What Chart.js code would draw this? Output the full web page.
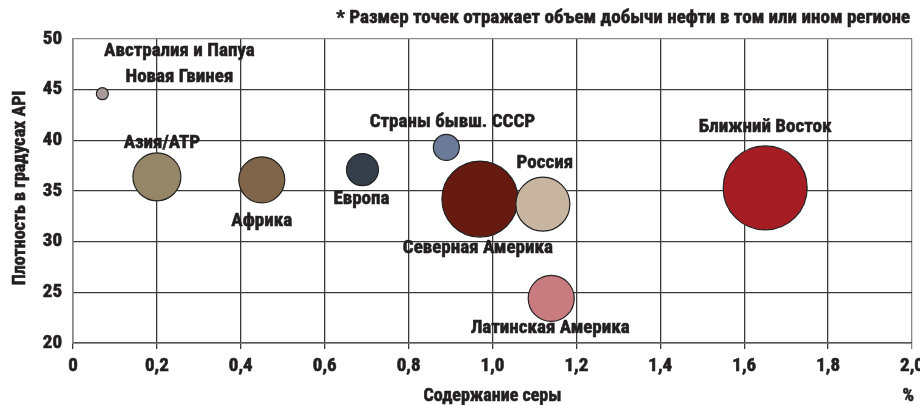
<!DOCTYPE html>
<html>
<head>
<meta charset="utf-8">
<script src="https://cdn.jsdelivr.net/npm/chart.js@4.4.1/dist/chart.umd.min.js"></script>
<style>
  html, body { margin: 0; padding: 0; background: #fff; }
  #wrap { width: 920px; height: 405px; position: relative; }
</style>
</head>
<body>
<div id="wrap"><canvas id="canvas-1"></canvas></div>
<script>
// regions
var regions = ['Австралия и Папуа\nНовая Гвинея', 'Азия/АТР', 'Африка', 'Европа',
  'Страны бывш. СССР', 'Северная Америка', 'Россия', 'Латинская Америка', 'Ближний Восток'];
// sulfur content, %
var sulfur = [0.07, 0.20, 0.45, 0.69, 0.89, 0.97, 1.12, 1.14, 1.65];
// API gravity
var api = [44.6, 36.4, 36.1, 37.1, 39.3, 34.2, 33.7, 24.4, 35.3];
// bubble radius (oil production)
var volume = [6, 24, 23, 16, 13, 38, 27, 23, 42];
var colors = ['#a89a98', '#958668', '#7f6549', '#353f4b', '#6b7a97', '#661a10', '#c7b5a0', '#c97c7f', '#a51c22'];
var xTicks = [0, 0.2, 0.4, 0.6, 0.8, 1.0, 1.2, 1.4, 1.6, 1.8, 2.0];
var yTicks = [20, 25, 30, 35, 40, 45, 50];

// label offsets from bubble centre (px)
var labelOffsets = [[77, -42], [5, -34], [0, 41], [-1, 30], [6, -25], [-2, 49], [2, -41], [-1, 30], [0, -61]];

var FONT = "'Roboto Condensed', 'Open Sans', sans-serif";
var INK = '#231f20';

var points = sulfur.map(function (x, i) {
  return { x: x, y: api[i], r: volume[i] };
});

var fmt = function (v) {
  if (v === 0) return '0';
  return v.toFixed(1).replace('.', ',');
};

// bold text with a thin outline, closer to the heavy print font
var heavyText = function (ctx, text, x, y) {
  ctx.strokeText(text, x, y);
  ctx.fillText(text, x, y);
};

var textPlugin = {
  id: 'texts',
  afterDatasetsDraw: function (chart) {
    var ctx = chart.ctx;
    var meta = chart.getDatasetMeta(0);
    ctx.save();
    ctx.fillStyle = INK;
    ctx.strokeStyle = INK;
    ctx.lineWidth = 0.6;
    ctx.lineJoin = 'round';
    ctx.font = 'bold 19px ' + FONT;
    ctx.textAlign = 'center';
    ctx.textBaseline = 'middle';
    meta.data.forEach(function (el, i) {
      var lines = regions[i].split('\n');
      var off = labelOffsets[i];
      lines.forEach(function (line, k) {
        heavyText(ctx, line, el.x + off[0], el.y + off[1] + k * 26);
      });
    });

    // note
    ctx.font = 'bold 19px ' + FONT;
    ctx.textAlign = 'right';
    heavyText(ctx, '* Размер точек отражает объем добычи нефти в том или ином регионе', 910, 18);

    // axis titles
    var area = chart.chartArea;
    ctx.font = 'bold 18px ' + FONT;
    ctx.textAlign = 'center';
    heavyText(ctx, 'Содержание серы', (area.left + area.right) / 2, 396);
    ctx.textAlign = 'right';
    heavyText(ctx, '%', 914, 396);

    ctx.translate(20, 188);
    ctx.rotate(-Math.PI / 2);
    ctx.textAlign = 'center';
    heavyText(ctx, 'Плотность в градусах API', 0, 0);
    ctx.restore();
  }
};

var bubbleChart = new Chart(document.getElementById('canvas-1'), {
  type: 'bubble',
  data: {
    datasets: [{
      data: points,
      backgroundColor: colors,
      borderColor: '#222',
      borderWidth: 1.2,
      hoverBackgroundColor: colors
    }]
  },
  options: {
    responsive: true,
    maintainAspectRatio: false,
    animation: false,
    layout: { autoPadding: false, padding: { left: 0, right: 8, top: 39, bottom: 0 } },
    plugins: {
      legend: { display: false },
      tooltip: { enabled: false }
    },
    scales: {
      x: {
        type: 'linear',
        min: 0,
        max: 2,
        afterBuildTicks: function (scale) {
          scale.ticks = xTicks.map(function (v) { return { value: v }; });
        },
        afterFit: function (scale) {
          scale.height = 62;
          scale.paddingLeft = 0;
          scale.paddingRight = 0;
        },
        grid: {
          color: function (c) { return c.tick && (c.tick.value === 2) ? '#888' : '#3a3a3a'; },
          lineWidth: 1.3,
          tickLength: 6,
          drawTicks: true
        },
        border: { color: '#555', width: 1.5 },
        ticks: {
          color: INK,
          textStrokeColor: INK,
          textStrokeWidth: 0.6,
          padding: 6,
          maxRotation: 0,
          font: { family: FONT, size: 19, weight: 'bold' },
          callback: function (v) { return fmt(v); }
        }
      },
      y: {
        type: 'linear',
        min: 20,
        max: 50,
        afterBuildTicks: function (scale) {
          scale.ticks = yTicks.map(function (v) { return { value: v }; });
        },
        afterFit: function (scale) {
          scale.width = 73;
          scale.paddingTop = 0;
          scale.paddingBottom = 0;
        },
        grid: {
          color: function (c) { return c.tick && (c.tick.value === 50) ? '#888' : '#3a3a3a'; },
          lineWidth: 1.3,
          drawTicks: false
        },
        border: { color: '#888', width: 1.5 },
        ticks: {
          color: INK,
          textStrokeColor: INK,
          textStrokeWidth: 0.6,
          padding: 11,
          font: { family: FONT, size: 19, weight: 'bold' }
        }
      }
    }
  },
  plugins: [textPlugin]
});
</script>
</body>
</html>
